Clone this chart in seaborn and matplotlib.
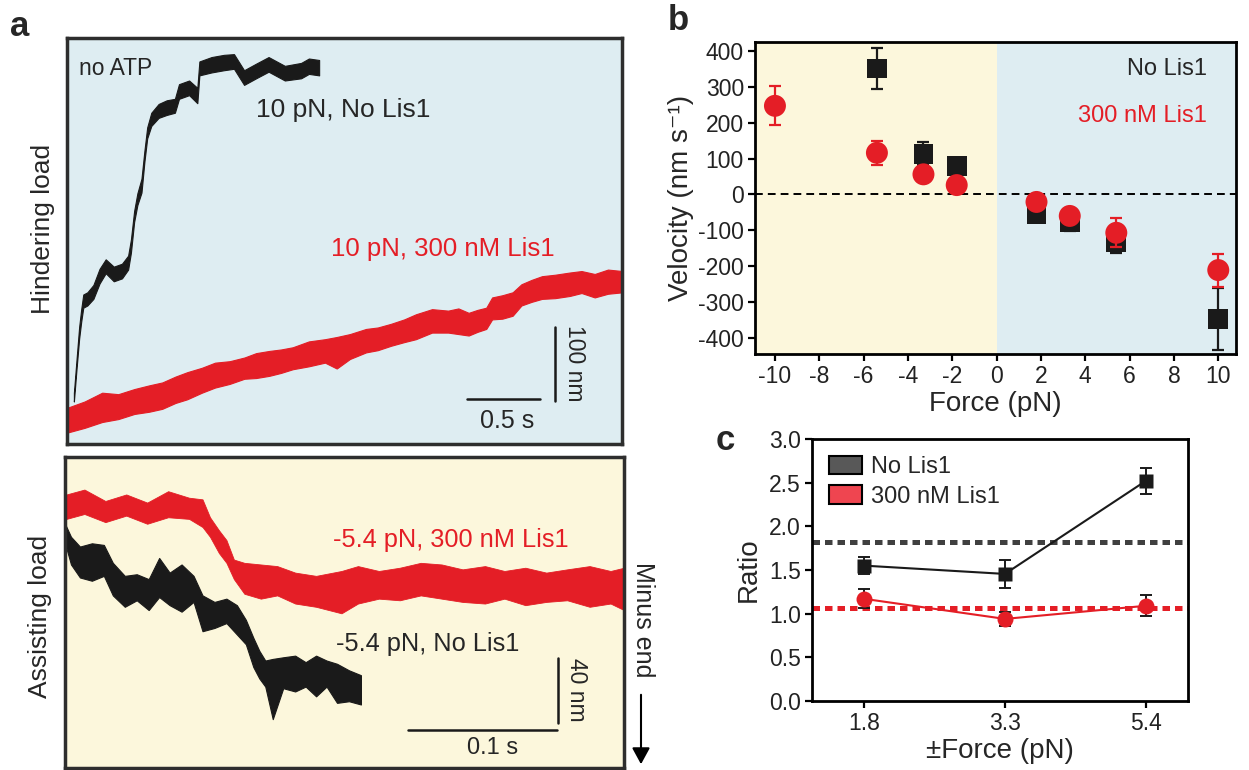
import seaborn as sns
import matplotlib.pyplot as plt
from matplotlib.patches import Patch

sns.set_style('white')
plt.rcParams['font.family'] = ['Liberation Sans', 'DejaVu Sans']
plt.rcParams['axes.unicode_minus'] = False

RED = '#e41e26'
DARK = '#1a1a1a'
BLUE_BG = '#deedf2'
YELLOW_BG = '#fcf7dc'
FRAME = '#2e2e2e'

# panel a, hindering load (time in s, position in nm; lo/hi = edges of the noisy trace)
hind_nolis_t = [0.047, 0.064, 0.083, 0.097, 0.111, 0.139, 0.18, 0.222, 0.264, 0.319,
                0.375, 0.417, 0.436, 0.458, 0.48, 0.508, 0.528, 0.547, 0.575, 0.625,
                0.68, 0.736, 0.764, 0.833, 0.889, 0.903, 0.986, 1.07, 1.139, 1.208,
                1.29, 1.375, 1.486, 1.597, 1.65, 1.72]
hind_nolis_hi = [70, 113, 160, 184, 204, 207, 217, 239, 252, 242,
                 246, 257, 279, 318, 342, 362, 400, 432, 452, 464,
                 469, 471, 491, 496, 486, 522, 528, 531, 532, 510,
                 519, 528, 516, 520, 526, 524]
hind_nolis_lo = [58, 100, 144, 167, 186, 189, 198, 219, 233, 222,
                 226, 238, 261, 303, 326, 343, 385, 417, 434, 445,
                 449, 452, 471, 476, 465, 503, 507, 510, 512, 490,
                 499, 508, 496, 499, 505, 503]

hind_lis_t = [0.01, 0.12, 0.24, 0.35, 0.46, 0.56, 0.65, 0.74, 0.82, 0.92,
              1.01, 1.11, 1.21, 1.29, 1.38, 1.46, 1.54, 1.65, 1.76, 1.84,
              1.93, 2.04, 2.12, 2.21, 2.30, 2.38, 2.49, 2.60, 2.67, 2.74,
              2.80, 2.86, 2.90, 2.97, 3.04, 3.10, 3.17, 3.24, 3.33, 3.43,
              3.51, 3.60, 3.69, 3.79]
hind_lis_hi = [50, 58, 70, 68, 75, 80, 84, 92, 98, 104,
               111, 113, 118, 124, 127, 129, 132, 140, 143, 146,
               150, 157, 159, 164, 170, 177, 184, 182, 185, 179,
               183, 186, 200, 203, 207, 218, 224, 229, 231, 234,
               236, 232, 238, 236]
hind_lis_lo = [16, 22, 30, 34, 41, 44, 48, 56, 61, 70,
               77, 82, 89, 90, 93, 97, 102, 106, 111, 103,
               116, 125, 128, 134, 139, 143, 152, 152, 150, 148,
               153, 157, 170, 171, 175, 189, 194, 198, 199, 202,
               206, 200, 205, 207]

# panel a, assisting load
assist_lis_t = [0.001, 0.013, 0.027, 0.041, 0.055, 0.069, 0.083, 0.092, 0.097, 0.103,
                0.108, 0.113, 0.120, 0.131, 0.142, 0.154, 0.168, 0.185, 0.196, 0.210,
                0.224, 0.238, 0.252, 0.266, 0.281, 0.294, 0.308, 0.322, 0.336, 0.351,
                0.365, 0.374]
assist_lis_hi = [168, 171, 164, 168, 163, 170, 166, 165, 154, 146,
                 140, 128, 126, 125, 124, 120, 118, 121, 124, 121,
                 123, 126, 125, 122, 124, 121, 123, 120, 122, 124,
                 121, 123]
assist_lis_lo = [153, 156, 151, 155, 150, 154, 153, 148, 142, 132,
                 126, 116, 107, 104, 106, 101, 99, 95, 101, 104,
                 103, 106, 104, 102, 101, 104, 100, 102, 103, 99,
                 101, 97]

assist_nolis_t = [0.000, 0.004, 0.010, 0.018, 0.026, 0.032, 0.040, 0.048, 0.056, 0.063,
                  0.070, 0.078, 0.086, 0.092, 0.100, 0.108, 0.115, 0.121, 0.126, 0.130,
                  0.134, 0.139, 0.146, 0.154, 0.161, 0.168, 0.175, 0.182, 0.190, 0.198]
assist_nolis_hi = [150, 142, 136, 138, 137, 126, 118, 119, 116, 129,
                   120, 125, 118, 106, 102, 104, 100, 91, 80, 72,
                   66, 67, 68, 69, 65, 69, 66, 64, 60, 57]
assist_nolis_lo = [138, 125, 117, 115, 118, 106, 99, 103, 97, 105,
                   100, 96, 102, 84, 86, 89, 82, 76, 62, 55,
                   50, 30, 49, 47, 50, 44, 50, 40, 41, 39]

# panel b, velocity vs force
force_nolis = [-5.4, -3.3, -1.8, 1.8, 3.3, 5.4, 10]
vel_nolis = [351, 113, 80, -54, -77, -133, -347]
vel_nolis_err = [58, 32, 15, 15, 26, 30, 86]
force_lis = [-10, -5.4, -3.3, -1.8, 1.8, 3.3, 5.4, 10]
vel_lis = [247, 116, 56, 26, -21, -60, -107, -211]
vel_lis_err = [54, 33, 10, 10, 10, 15, 40, 46]

# panel c, ratio of assisting/hindering speed
force_c = ['1.8', '3.3', '5.4']
ratio_nolis = [1.55, 1.455, 2.52]
ratio_nolis_err = [0.10, 0.16, 0.15]
ratio_lis = [1.17, 0.94, 1.09]
ratio_lis_err = [0.11, 0.08, 0.12]
mean_nolis = 1.82
mean_lis = 1.06

W, H = 1249, 770
fig = plt.figure(figsize=(W / 100, H / 100), dpi=100)


def px_axes(x0, y0, x1, y1):
    return fig.add_axes([x0 / W, 1 - y1 / H, (x1 - x0) / W, (y1 - y0) / H])


def trace_box(ax, bg):
    ax.set_facecolor(bg)
    ax.set_xticks([])
    ax.set_yticks([])
    for sp in ax.spines.values():
        sp.set_color(FRAME)
        sp.set_linewidth(2.5)


# ---- a, top ----
ax_top = px_axes(67, 38, 622, 444)
trace_box(ax_top, BLUE_BG)
ax_top.fill_between(hind_nolis_t, hind_nolis_lo, hind_nolis_hi, color=DARK, lw=0.8)
ax_top.fill_between(hind_lis_t, hind_lis_lo, hind_lis_hi, color=RED, lw=0.8)
ax_top.plot([2.73, 3.23], [61, 61], color=DARK, lw=1.8)
ax_top.plot([3.33, 3.33], [59, 159], color=DARK, lw=1.8)
ax_top.text(3.0, 31, '0.5 s', fontsize=18, ha='center', va='center')
ax_top.text(3.46, 110, '100 nm', fontsize=16.5, ha='center', va='center', rotation=-90)
ax_top.text(0.08, 513, 'no ATP', fontsize=16.5, ha='left', va='center')
ax_top.text(1.29, 456, '10 pN, No Lis1', fontsize=19, ha='left', va='center')
ax_top.text(1.80, 266, '10 pN, 300 nM Lis1', fontsize=18.5, ha='left', va='center', color=RED)
ax_top.set_xlim(0, 3.786)
ax_top.set_ylim(0, 554)

# ---- a, bottom ----
ax_bot = px_axes(65, 457, 624, 768)
trace_box(ax_bot, YELLOW_BG)
ax_bot.fill_between(assist_lis_t, assist_lis_lo, assist_lis_hi, color=RED, lw=0.6)
ax_bot.fill_between(assist_nolis_t, assist_nolis_lo, assist_nolis_hi, color=DARK, lw=0.8)
ax_bot.plot([0.2295, 0.3295], [23.5, 23.5], color=DARK, lw=1.8)
ax_bot.plot([0.330, 0.330], [27.6, 67.6], color=DARK, lw=1.8)
ax_bot.text(0.286, 12, '0.1 s', fontsize=17, ha='center', va='center')
ax_bot.text(0.342, 48, '40 nm', fontsize=16.5, ha='center', va='center', rotation=-90)
ax_bot.text(0.179, 140, '-5.4 pN, 300 nM Lis1', fontsize=18.3, ha='left', va='center', color=RED)
ax_bot.text(0.181, 76, '-5.4 pN, No Lis1', fontsize=18.3, ha='left', va='center')
ax_bot.set_xlim(0, 0.374)
ax_bot.set_ylim(0, 191)

fig.text(43 / W, 1 - 229 / H, 'Hindering load', fontsize=19, rotation=90, ha='center', va='center')
fig.text(40 / W, 1 - 616 / H, 'Assisting load', fontsize=19, rotation=90, ha='center', va='center')
fig.text(643 / W, 1 - 620 / H, 'Minus end', fontsize=18, rotation=-90, ha='center', va='center')
ax_bot.annotate('', xy=(641 / W, 1 - 767 / H), xytext=(641 / W, 1 - 692 / H),
                xycoords='figure fraction', textcoords='figure fraction',
                arrowprops=dict(arrowstyle='-|>,head_length=0.55,head_width=0.3',
                                mutation_scale=18, color='black', lw=1.5),
                annotation_clip=False)


def style_axes(ax, labelsize):
    for sp in ax.spines.values():
        sp.set_color('black')
        sp.set_linewidth(2)
    ax.tick_params(direction='out', length=5, width=1.6, labelsize=labelsize,
                   bottom=True, left=True, pad=3, colors='black', labelcolor='#222222')


# ---- b ----
ax_b = px_axes(755, 42, 1236, 354)
ax_b.axvspan(-12, 0, color=YELLOW_BG, lw=0, zorder=0)
ax_b.axvspan(0, 12, color=BLUE_BG, lw=0, zorder=0)
ax_b.axhline(0, color='black', lw=1.4, ls=(0, (4, 2.6)), zorder=1)
ax_b.errorbar(force_nolis, vel_nolis, yerr=vel_nolis_err, fmt='none', ecolor=DARK,
              elinewidth=1.6, capsize=4.5, capthick=1.6, zorder=2)
sns.scatterplot(x=force_nolis, y=vel_nolis, marker='s', s=200, color=DARK,
                edgecolor='none', ax=ax_b, zorder=3)
ax_b.errorbar(force_lis, vel_lis, yerr=vel_lis_err, fmt='none', ecolor=RED,
              elinewidth=1.6, capsize=4.5, capthick=1.6, zorder=4)
sns.scatterplot(x=force_lis, y=vel_lis, marker='o', s=250, color=RED,
                edgecolor='none', ax=ax_b, zorder=5)
ax_b.text(9.5, 351, 'No Lis1', fontsize=17, ha='right', va='center')
ax_b.text(9.5, 220, '300 nM Lis1', fontsize=17, ha='right', va='center', color=RED)
ax_b.set_xlim(-10.9, 10.8)
ax_b.set_ylim(-445, 425)
ax_b.set_xticks(range(-10, 11, 2))
ax_b.set_yticks(range(-400, 401, 100))
style_axes(ax_b, 16.5)
ax_b.set_xlabel('Force (pN)', fontsize=20, labelpad=2)
ax_b.set_ylabel('Velocity (nm s⁻¹)', fontsize=20, labelpad=3)

# ---- c ----
pos_c = [0, 1, 2]
ax_c = px_axes(812, 439, 1188, 701)
ax_c.axhline(mean_nolis, color='#404040', lw=3.6, ls=(0, (1.5, 1)), zorder=1)
ax_c.axhline(mean_lis, color=RED, lw=3.6, ls=(0, (1.5, 1)), zorder=1)
ax_c.errorbar(pos_c, ratio_nolis, yerr=ratio_nolis_err, fmt='none', ecolor=DARK,
              elinewidth=1.4, capsize=4, capthick=1.4, zorder=2)
sns.lineplot(x=pos_c, y=ratio_nolis, color=DARK, lw=1.5, marker='s', markersize=10,
             markeredgecolor='none', ax=ax_c, zorder=3)
ax_c.errorbar(pos_c, ratio_lis, yerr=ratio_lis_err, fmt='none', ecolor=DARK,
              elinewidth=1.4, capsize=4, capthick=1.4, zorder=2)
sns.lineplot(x=pos_c, y=ratio_lis, color=RED, lw=1.5, marker='o', markersize=11.5,
             markeredgecolor='none', ax=ax_c, zorder=4)
ax_c.set_xlim(-0.37, 2.30)
ax_c.set_ylim(0, 3.0)
ax_c.set_xticks(pos_c)
ax_c.set_xticklabels(force_c)
ax_c.set_yticks([0, 0.5, 1.0, 1.5, 2.0, 2.5, 3.0])
ax_c.set_yticklabels(['0.0', '0.5', '1.0', '1.5', '2.0', '2.5', '3.0'])
style_axes(ax_c, 16.5)
ax_c.set_xlabel('±Force (pN)', fontsize=20, labelpad=2)
ax_c.set_ylabel('Ratio', fontsize=20, labelpad=5)
handles = [Patch(facecolor='#585858', edgecolor='black', lw=1.5, label='No Lis1'),
           Patch(facecolor='#ef4550', edgecolor='black', lw=1.5, label='300 nM Lis1')]
ax_c.legend(handles=handles, loc='upper left', bbox_to_anchor=(0.0, 1.0), frameon=False,
            fontsize=17, handlelength=1.4, handleheight=0.85, handletextpad=0.4,
            labelspacing=0.3, borderaxespad=0.3)

# panel letters
fig.text(20 / W, 1 - 27 / H, 'a', fontsize=25, fontweight='bold', ha='center', va='center')
fig.text(678 / W, 1 - 21 / H, 'b', fontsize=25, fontweight='bold', ha='center', va='center')
fig.text(725 / W, 1 - 440 / H, 'c', fontsize=25, fontweight='bold', ha='center', va='center')

fig.savefig('out.png', dpi=100)
